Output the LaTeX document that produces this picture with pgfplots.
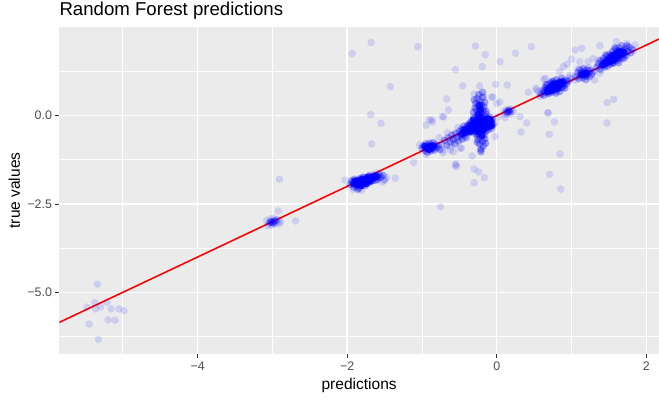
\documentclass[border=0pt]{standalone}
\usepackage{pgfplots}
\pgfplotsset{compat=1.18}
\usepackage{fontspec}
\setmainfont{Liberation Sans}
\definecolor{ggbg}{HTML}{EBEBEB}
\definecolor{ggtxt}{HTML}{4D4D4D}
\definecolor{ggtick}{HTML}{333333}
\begin{document}
\begin{tikzpicture}
\path[use as bounding box] (-42pt,-32.4pt) rectangle (425pt,251.1pt);
\begin{axis}[
  at={(0,0)}, anchor=south west, scale only axis,
  width=425pt, height=232.2pt,
  xmin=-5.85, xmax=2.17, ymin=-6.755, ymax=2.52,
  axis background/.style={fill=ggbg},
  axis line style={draw=none},
  grid=both,
  xtick={-4,-2,0,2}, xticklabels={−4,−2,0,2},
  ytick={-5,-2.5,0}, yticklabels={−5.0,−2.5,0.0},
  minor xtick={-5,-3,-1,1}, minor ytick={-6.25,-3.75,-1.25,1.25},
  major grid style={white, line width=1.0pt},
  minor grid style={white, line width=0.5pt},
  tick style={ggtick, line width=0.6pt},
  tick align=outside, major tick length=2.75pt, minor tick length=0pt,
  xtick pos=bottom, ytick pos=left,
  xticklabel style={font=\fontsize{8.8}{10}\selectfont, text=ggtxt, inner sep=0pt, yshift=-2.2pt},
  yticklabel style={font=\fontsize{8.8}{10}\selectfont, text=ggtxt, inner sep=0pt, xshift=-2.2pt},
  clip=true,
  faint/.style={only marks, mark=*, mark size=2.7pt, color=blue, mark options={draw opacity=0, fill=blue, fill opacity=0.12}},
  mid/.style={only marks, mark=*, mark size=2.7pt, color=blue, mark options={draw opacity=0, fill=blue, fill opacity=0.32}},
  dense/.style={only marks, mark=*, mark size=2.7pt, color=blue, mark options={draw opacity=0, fill=blue, fill opacity=0.75}},
]
% sparse points
\addplot[faint] coordinates {
(-5.34,-4.77) (-5.48,-5.42) (-5.375,-5.29) (-5.366,-5.47) (-5.30,-5.41) (-5.21,-5.28) (-5.156,-5.47) (-5.05,-5.47) (-4.983,-5.52) (-5.45,-5.90) (-5.197,-5.78) (-5.103,-5.79) (-5.326,-6.33)
(-2.906,-1.80) (-0.75,-2.58)
(-1.935,1.755) (-1.68,2.07) (-1.056,1.954) (-0.286,1.973) (-0.152,1.727) (0.463,1.954) (0.249,1.767) (0.044,1.529) (-0.192,1.387) (-0.553,1.302) (-1.422,0.821) (-0.455,0.841) (-0.227,0.841) (-0.013,0.889) (0.04,0.388) (-0.053,0.538) (-0.668,0.473) (-0.647,0.161) (-1.684,0.028) (-1.547,-0.215) (-1.671,-0.801) (-1.11,-1.32) (-0.544,-1.368) (-0.535,-1.444) (-0.303,-1.509) (-0.241,-1.594) (-0.166,-1.755) (-0.303,-1.897) (0.708,-1.66) (0.856,-2.075) (0.846,-1.084) (0.703,-0.527) (0.77,-0.178) (0.682,0.076) (0.325,-0.461) (0.401,-0.207) (0.311,-0.028) (0.111,-0.057) (1.475,0.368) (1.564,0.464) (1.475,-0.207)
(-0.90,-0.12) (-0.945,-0.27) (-0.727,-0.03) (-0.86,-0.18)
(-2.03,-1.82) (-1.50,-1.82) (-1.356,-1.77)
(-2.69,-2.98) (-2.92,-2.70)
(-0.30,0.61) (-0.18,0.54) (-0.07,0.52) (0.0,0.35) (-0.87,-0.12) (-0.71,-0.03) (-0.33,-1.14) (-0.22,-0.97) (-0.02,-0.59) (-0.02,-0.215) (0.02,-0.03) (-0.58,-0.64) (-0.47,-0.92) (-0.62,-0.88) (-0.49,-0.92) (-0.557,-1.40)
(0.14,0.87) (0.423,0.662) (0.63,1.03) (0.525,0.78) (0.58,0.59) (0.53,0.73) (0.65,1.06)
(1.047,1.86) (1.136,1.91) (1.0,1.6) (0.89,1.39) (0.94,1.46) (0.84,1.25) (1.11,1.53) (1.22,1.53) (1.29,1.62) (1.60,2.10) (1.74,2.05) (1.85,2.0) (1.38,1.98) (1.31,1.01) (1.38,1.20) (1.05,1.01) (0.96,0.96) (0.98,1.15) (0.69,0.085)
(-3.08,-2.97) (-3.05,-3.05) (-3.03,-2.92) (-3.01,-3.10) (-3.00,-2.99) (-2.99,-3.03) (-2.98,-2.90) (-2.97,-3.07) (-2.96,-2.97) (-2.94,-3.02) (-2.92,-2.94) (-2.91,-3.06) (-2.89,-3.00) (-3.02,-3.00) (-2.95,-2.95) (-3.06,-3.12)
(0.10,0.10) (0.12,0.16) (0.14,0.06) (0.16,0.13) (0.18,0.09) (0.20,0.17) (0.15,0.11) (0.13,0.13) (0.22,0.12) (0.11,0.04) (0.17,0.19) (0.19,0.05)
(-0.62,-0.98) (-0.58,-1.02) (-0.66,-0.48) (-0.52,-0.33) (-0.77,-0.62) (-0.72,-1.05)
(-1.03,-0.83) (-0.94,-1.10) (-0.74,-0.80) (-0.72,-0.98) (-1.92,-2.09) (-1.81,-2.12) (-1.60,-1.62) (-1.53,-1.88) (-1.50,-1.82) (-1.47,-1.75)
(0.58,0.55) (0.56,0.68) (1.00,1.05) (0.97,1.08) (1.83,1.84) (1.40,1.30) (1.36,1.58) (1.23,1.36) (1.09,1.32)
};
% cluster points
\addplot[mid] coordinates {
(-1.96,-1.95) (-1.93,-1.88) (-1.91,-2.02) (-1.90,-1.80) (-1.88,-1.93) (-1.87,-1.99) (-1.86,-1.84) (-1.85,-1.91) (-1.84,-2.05) (-1.83,-1.78) (-1.82,-1.88) (-1.81,-1.95) (-1.80,-1.83) (-1.79,-1.74) (-1.78,-1.90) (-1.77,-1.81) (-1.76,-1.98) (-1.75,-1.86) (-1.74,-1.77) (-1.73,-1.92) (-1.72,-1.83) (-1.71,-1.70) (-1.70,-1.88) (-1.69,-1.79) (-1.68,-1.73) (-1.66,-1.84) (-1.65,-1.68) (-1.63,-1.76) (-1.61,-1.71) (-1.59,-1.80) (-1.57,-1.66) (-1.55,-1.74) (-1.52,-1.69)
(-1.94,-1.84) (-1.89,-1.86) (-1.86,-2.08) (-1.84,-1.82) (-1.82,-1.97) (-1.80,-1.90) (-1.79,-1.85) (-1.77,-1.76) (-1.76,-1.89) (-1.74,-1.84) (-1.73,-1.80) (-1.71,-1.87) (-1.70,-1.76) (-1.68,-1.85) (-1.67,-1.78) (-1.64,-1.72) (-1.62,-1.83) (-1.58,-1.74)
(-3.01,-3.00) (-2.97,-2.98) (-2.99,-3.04) (-3.03,-3.02)
(-1.00,-0.92) (-0.98,-0.85) (-0.96,-0.99) (-0.95,-0.80) (-0.94,-0.90) (-0.93,-1.03) (-0.92,-0.86) (-0.91,-0.95) (-0.90,-0.78) (-0.89,-0.89) (-0.88,-1.00) (-0.87,-0.84) (-0.86,-0.93) (-0.85,-0.76) (-0.84,-0.88) (-0.83,-0.97) (-0.82,-0.82) (-0.80,-0.91) (-0.78,-0.85) (-0.76,-0.95) (-0.92,-0.91) (-0.88,-0.94) (-0.90,-0.84) (-0.86,-0.87)
(-0.70,-0.70) (-0.67,-0.84) (-0.65,-0.63) (-0.62,-0.75) (-0.60,-0.55) (-0.58,-0.68) (-0.56,-0.80) (-0.55,-0.50) (-0.53,-0.62) (-0.51,-0.72)
(-0.50,-0.45) (-0.48,-0.58) (-0.47,-0.38) (-0.46,-0.66) (-0.45,-0.50) (-0.44,-0.30) (-0.43,-0.55) (-0.42,-0.42) (-0.41,-0.62) (-0.40,-0.35)
(-0.40,-0.40) (-0.38,-0.30) (-0.37,-0.48) (-0.36,-0.22) (-0.35,-0.36) (-0.34,-0.15) (-0.33,-0.44) (-0.32,-0.28) (-0.31,-0.05) (-0.30,-0.38) (-0.29,-0.20) (-0.28,-0.50) (-0.27,-0.31) (-0.26,-0.10) (-0.25,-0.42) (-0.24,-0.25) (-0.23,0.02) (-0.22,-0.35) (-0.21,-0.18) (-0.20,-0.46) (-0.19,-0.29) (-0.18,-0.08) (-0.17,-0.38) (-0.16,-0.22) (-0.15,0.05) (-0.14,-0.32) (-0.13,-0.14) (-0.12,-0.41) (-0.11,-0.24) (-0.10,-0.03) (-0.09,-0.30) (-0.08,-0.17) (-0.07,-0.36) (-0.06,-0.10) (-0.05,-0.25)
(-0.39,-0.26) (-0.36,-0.42) (-0.34,-0.33) (-0.32,-0.18) (-0.30,-0.27) (-0.29,-0.42) (-0.27,-0.14) (-0.26,-0.35) (-0.25,-0.21) (-0.24,-0.05) (-0.23,-0.30) (-0.22,-0.45) (-0.21,-0.12) (-0.20,-0.26) (-0.19,-0.37) (-0.18,-0.19) (-0.17,-0.02) (-0.16,-0.30) (-0.15,-0.44) (-0.14,-0.15) (-0.13,-0.26) (-0.12,-0.08) (-0.11,-0.33) (-0.10,-0.20) (-0.09,-0.12) (-0.08,-0.27) (-0.07,-0.20) (-0.28,-0.24) (-0.23,-0.17) (-0.18,-0.28) (-0.14,-0.22) (-0.20,-0.14) (-0.26,-0.28) (-0.16,-0.12)
(-0.31,0.10) (-0.29,0.22) (-0.28,0.35) (-0.27,0.15) (-0.26,0.48) (-0.25,0.28) (-0.24,0.60) (-0.23,0.18) (-0.22,0.40) (-0.21,0.08) (-0.20,0.30) (-0.19,0.52) (-0.18,0.14) (-0.17,0.25) (-0.16,0.38) (-0.30,0.45) (-0.19,0.66) (-0.14,0.12) (-0.25,0.05) (-0.21,0.20)
(-0.27,-0.55) (-0.25,-0.68) (-0.24,-0.52) (-0.23,-0.80) (-0.22,-0.62) (-0.21,-0.95) (-0.20,-0.58) (-0.19,-0.72) (-0.18,-0.86) (-0.17,-0.55) (-0.16,-0.66) (-0.21,-1.02) (-0.26,-0.75) (-0.15,-0.78)
(0.14,0.10) (0.17,0.12) (0.16,0.15)
(0.60,0.62) (0.62,0.72) (0.63,0.58) (0.65,0.80) (0.66,0.66) (0.67,0.74) (0.68,0.88) (0.69,0.62) (0.70,0.78) (0.71,0.70) (0.72,0.92) (0.73,0.66) (0.74,0.84) (0.75,0.76) (0.76,0.98) (0.77,0.70) (0.78,0.88) (0.79,0.80) (0.80,1.02) (0.81,0.74) (0.82,0.92) (0.83,0.84) (0.84,0.68) (0.85,0.96) (0.86,0.88) (0.87,1.06) (0.88,0.80) (0.89,0.94) (0.90,0.86) (0.92,1.00) (0.93,0.90) (0.95,0.98)
(0.64,0.70) (0.68,0.76) (0.70,0.68) (0.72,0.82) (0.74,0.74) (0.76,0.86) (0.78,0.78) (0.80,0.90) (0.82,0.82) (0.84,0.94) (0.86,0.80) (0.88,0.90) (0.73,0.96) (0.79,0.64) (0.91,0.78) (0.66,0.88)
(1.06,1.10) (1.08,1.22) (1.10,1.05) (1.11,1.30) (1.12,1.15) (1.14,1.24) (1.15,1.08) (1.16,1.34) (1.17,1.18) (1.18,1.26) (1.19,1.02) (1.20,1.14) (1.21,1.30) (1.22,1.20) (1.24,1.10) (1.25,1.28) (1.27,1.17) (1.29,1.24) (1.13,1.20) (1.19,1.12)
(1.34,1.38) (1.36,1.48) (1.38,1.32) (1.39,1.56) (1.40,1.42) (1.42,1.50) (1.43,1.62) (1.44,1.38) (1.45,1.55) (1.46,1.46) (1.47,1.68) (1.48,1.40) (1.49,1.60) (1.50,1.52) (1.51,1.74) (1.52,1.46) (1.53,1.64) (1.54,1.56) (1.55,1.82) (1.56,1.50) (1.57,1.70) (1.58,1.62) (1.59,1.88) (1.60,1.55) (1.61,1.76) (1.62,1.66) (1.63,1.92) (1.64,1.60) (1.65,1.80) (1.66,1.70) (1.67,1.98) (1.68,1.64) (1.69,1.84) (1.70,1.74) (1.72,1.90) (1.73,1.70) (1.75,1.82) (1.77,1.94) (1.79,1.78) (1.81,1.88)
(1.44,1.50) (1.48,1.56) (1.50,1.64) (1.52,1.58) (1.54,1.68) (1.56,1.62) (1.58,1.72) (1.60,1.66) (1.62,1.76) (1.64,1.70) (1.66,1.80) (1.55,1.48) (1.46,1.72) (1.70,1.62) (1.58,1.92) (1.74,1.98) (1.63,1.50)
};
% dense cores
\addplot[dense] coordinates {
(-1.85,-1.88) (-1.82,-1.84) (-1.79,-1.86) (-1.76,-1.82) (-1.73,-1.80) (-1.80,-1.80) (-1.77,-1.88) (-1.83,-1.92) (-1.70,-1.78) (-1.88,-1.90) (-1.74,-1.85) (-1.67,-1.76) (-1.79,-1.92) (-1.72,-1.74) (-1.86,-1.95) (-1.91,-1.93) (-1.64,-1.74) (-1.81,-1.98) (-1.69,-1.83) (-1.61,-1.72) (-1.89,-1.85) (-1.75,-1.92)
(-0.91,-0.89) (-0.88,-0.88) (-0.94,-0.92) (-0.85,-0.86) (-0.90,-0.95) (-0.96,-0.87)
(-0.25,-0.25) (-0.22,-0.20) (-0.19,-0.24) (-0.16,-0.18) (-0.28,-0.30) (-0.20,-0.32) (-0.13,-0.25) (-0.24,-0.14) (-0.17,-0.28) (-0.30,-0.20) (-0.10,-0.22) (-0.22,-0.38) (-0.27,-0.40) (-0.14,-0.10) (-0.33,-0.36) (-0.21,-0.05) (-0.35,-0.45) (-0.12,-0.30) (-0.08,-0.14) (-0.18,-0.40) (-0.38,-0.42) (-0.25,0.02) (-0.22,0.15)
(-0.31,-0.12) (-0.26,-0.45) (-0.15,-0.35) (-0.11,-0.10) (-0.36,-0.28) (-0.42,-0.48) (-0.20,-0.55) (-0.23,0.30) (-0.07,-0.28) (-0.47,-0.52) (-0.44,-0.40)
(0.72,0.78) (0.75,0.82) (0.78,0.84) (0.81,0.86) (0.84,0.88) (0.77,0.78) (0.80,0.80) (0.74,0.72) (0.83,0.92) (0.70,0.74) (0.86,0.92) (0.79,0.88) (0.68,0.68) (0.88,0.96) (0.76,0.90) (0.82,0.78)
(1.17,1.18) (1.20,1.20) (1.14,1.16)
(1.50,1.58) (1.53,1.62) (1.56,1.64) (1.59,1.68) (1.62,1.72) (1.55,1.56) (1.58,1.60) (1.61,1.64) (1.64,1.74) (1.52,1.54) (1.57,1.70) (1.66,1.76) (1.48,1.52) (1.60,1.76) (1.68,1.80) (1.45,1.48) (1.54,1.70) (1.63,1.82) (1.70,1.78) (1.42,1.44)
};
\addplot[red, line width=1.1pt] coordinates {(-5.85,-5.85) (2.17,2.17)};
\end{axis}
\node[anchor=base west, inner sep=0pt, font=\fontsize{13.2}{15}\selectfont] at (0pt,239.8pt) {Random Forest predictions};
\node[anchor=base, inner sep=0pt, font=\fontsize{11}{13}\selectfont] at (212.5pt,-24.6pt) {predictions};
\node[anchor=base, rotate=90, inner sep=0pt, font=\fontsize{11}{13}\selectfont] at (-27.9pt,116.1pt) {true values};
\end{tikzpicture}
\end{document}
